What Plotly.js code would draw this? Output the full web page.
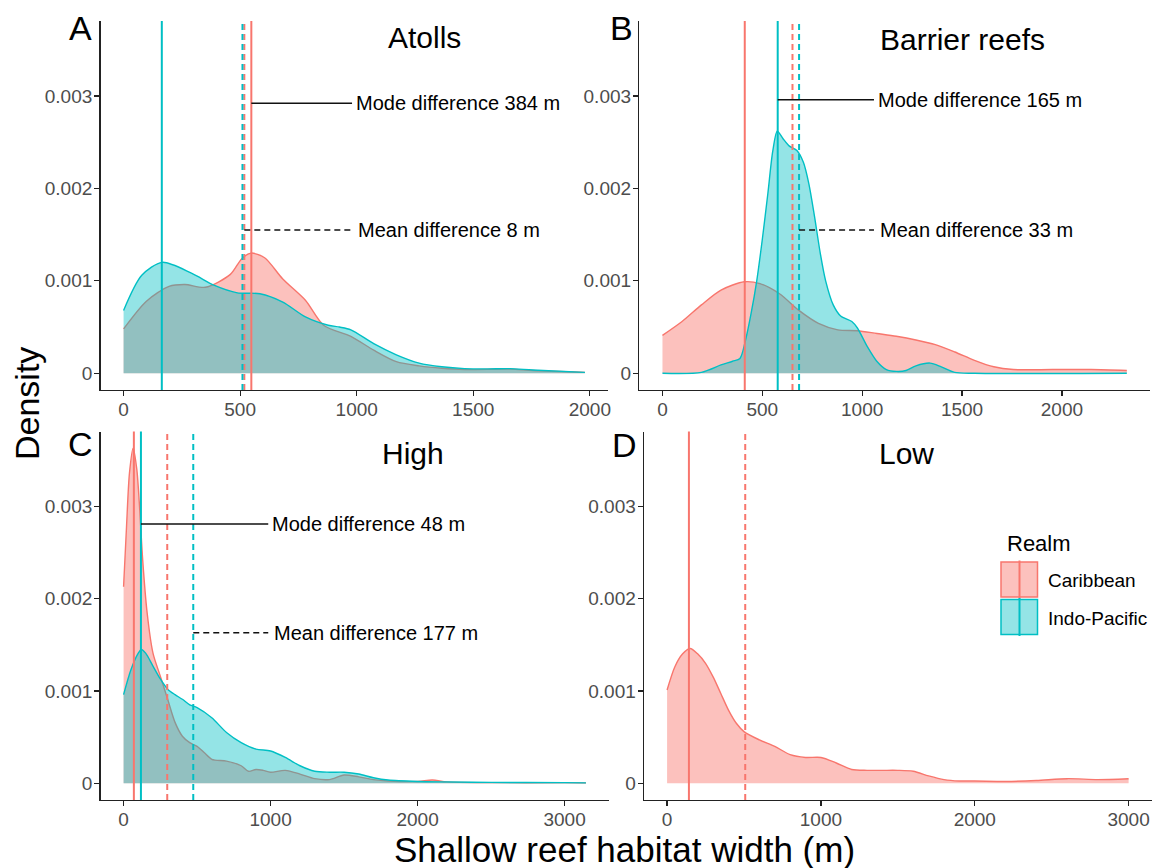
<!DOCTYPE html>
<html><head><meta charset="utf-8">
<script src="https://cdn.plot.ly/plotly-3.0.1.min.js"></script>
<style>html,body{margin:0;padding:0;background:#fff}</style>
</head><body>
<div id="chart" style="width:1162px;height:868px"></div>
<script>
// ---------- DATA ----------
const panelNames = ["Atolls", "Barrier reefs", "High", "Low"];
const panelLetters = ["A", "B", "C", "D"];
const realms = ["Caribbean", "Indo-Pacific"];

// Atolls
const atollsCarX = [0, 98, 195, 263, 351, 458, 507, 546, 605, 683, 780, 858, 975, 1073, 1170, 1268, 1365, 1463, 1658, 1755, 1979];
const atollsCarY = [0.00048, 0.00078, 0.00094, 0.00096, 0.00093, 0.00107, 0.00124, 0.00130, 0.00125, 0.00102, 0.00079, 0.00052, 0.00040, 0.00025, 0.000126, 0.00008, 0.000054, 0.00004, 0.000045, 0.00003, 0.00001];
const atollsIPX = [0, 78, 166, 293, 390, 488, 585, 683, 780, 878, 926, 975, 1073, 1170, 1268, 1365, 1463, 1560, 1658, 1755, 1979];
const atollsIPY = [0.00068, 0.00106, 0.00120, 0.00108, 0.00095, 0.00087, 0.00086, 0.00077, 0.00061, 0.00052, 0.00050, 0.00047, 0.00032, 0.00020, 0.00011, 0.00007, 0.00005, 0.000047, 0.00005, 0.000036, 0.00001];

// Barrier reefs
const barrierCarX = [0, 98, 195, 293, 410, 488, 586, 683, 781, 878, 976, 1074, 1171, 1269, 1366, 1464, 1562, 1659, 1757, 1952, 2147, 2325];
const barrierCarY = [0.00041, 0.00056, 0.00074, 0.00090, 0.00099, 0.00097, 0.00086, 0.00068, 0.00054, 0.00047, 0.00046, 0.00043, 0.00040, 0.00036, 0.00031, 0.00023, 0.00014, 0.00007, 0.00004, 0.00004, 0.00004, 0.00003];
const barrierIPX = [0, 195, 293, 351, 388, 416, 444, 472, 500, 528, 552, 575, 603, 634, 673, 706, 733, 761, 790, 817, 855, 892, 948, 976, 1025, 1073, 1121, 1172, 1220, 1269, 1340, 1396, 1463, 1562, 2325];
const barrierIPY = [0, 0.00001, 0.00009, 0.00013, 0.00016, 0.00036, 0.00065, 0.00100, 0.00145, 0.00195, 0.00240, 0.00262, 0.00254, 0.00246, 0.00241, 0.00228, 0.00205, 0.00170, 0.00130, 0.00100, 0.00074, 0.00062, 0.00056, 0.00049, 0.00029, 0.00013, 0.00004, 0.00002, 0.00003, 0.00008, 0.00011, 0.00007, 0.00001, 0, 0];

// High
const highCarX = [0, 20, 40, 65, 90, 110, 130, 160, 200, 250, 300, 350, 400, 450, 500, 550, 600, 700, 800, 850, 900, 950, 1000, 1100, 1200, 1300, 1400, 1500, 1600, 1700, 1800, 2000, 2100, 2200, 2500, 3000, 3145];
const highCarY = [0.00213, 0.00278, 0.00336, 0.00363, 0.00340, 0.00296, 0.00242, 0.00185, 0.00141, 0.00116, 0.00091, 0.00066, 0.00051, 0.00044, 0.00040, 0.00033, 0.00026, 0.00024, 0.00019, 0.00013, 0.00015, 0.00014, 0.00012, 0.00014, 0.00010, 0.00005, 0.00004, 0.00009, 0.00007, 0.00004, 0.000025, 0.00002, 0.000035, 0.000015, 0.000007, 0.000007, 0.000005];
const highIPX = [0, 50, 100, 120, 150, 200, 250, 300, 350, 400, 450, 500, 600, 700, 800, 900, 1000, 1100, 1200, 1300, 1400, 1500, 1600, 1700, 1800, 2000, 2200, 2500, 3000, 3145];
const highIPY = [0.00096, 0.00123, 0.00141, 0.00145, 0.00141, 0.00127, 0.00113, 0.00102, 0.00096, 0.00091, 0.00085, 0.00082, 0.00071, 0.00055, 0.00044, 0.00037, 0.00035, 0.00028, 0.00019, 0.00013, 0.00012, 0.00012, 0.00010, 0.00006, 0.000035, 0.00002, 0.000015, 0.00001, 0.000007, 0.000005];

// Low
const lowCarX = [0, 50, 100, 150, 200, 250, 300, 350, 400, 450, 500, 600, 700, 800, 900, 1000, 1100, 1200, 1300, 1400, 1500, 1600, 1700, 1800, 1900, 2000, 2200, 2400, 2600, 2800, 3000];
const lowCarY = [0.00101, 0.00126, 0.00140, 0.00146, 0.00140, 0.00130, 0.00115, 0.00097, 0.00079, 0.00065, 0.00056, 0.00047, 0.00040, 0.00031, 0.00028, 0.00028, 0.00022, 0.00015, 0.00014, 0.00014, 0.00014, 0.00013, 0.00008, 0.00004, 0.000025, 0.000025, 0.00002, 0.00003, 0.00005, 0.00004, 0.00005];

// modes and means (m) per panel: [Atolls, Barrier reefs, High, Low]
const modeCar = [548, 412, 70, 142];
const modeIP  = [164, 577, 118, null];
const meanCar = [518, 651, 297, 508];
const meanIP  = [510, 684, 474, null];
const modeDiff = [384, 165, 48, null];
const meanDiff = [8, 33, 177, null];

const yTickVals = [0, 0.001, 0.002, 0.003];
const yTickText = ["0", "0.001", "0.002", "0.003"];
const xTickVals = [[0, 500, 1000, 1500, 2000], [0, 500, 1000, 1500, 2000], [0, 1000, 2000, 3000], [0, 1000, 2000, 3000]];

// ---------- STYLE / LAYOUT ----------
const W = 1162, H = 868;
const px = v => v / W, py = v => 1 - v / H;
const FONT = "Liberation Sans, Arial, Helvetica, sans-serif";
const colCar = "#F8766D", colIP = "#00BFC4";
const fillCar = "rgba(248,118,109,0.45)", fillIP = "rgba(0,191,196,0.42)";

const series = [
  [[atollsCarX, atollsCarY], [atollsIPX, atollsIPY]],
  [[barrierCarX, barrierCarY], [barrierIPX, barrierIPY]],
  [[highCarX, highCarY], [highIPX, highIPY]],
  [[lowCarX, lowCarY], null]
];

const xRanges = [[-99, 2078], [-116, 2441], [-157, 3302], [-150, 3150]];
const xDomPx = [[100.5, 608], [639.3, 1150], [100.5, 609], [644, 1151.7]];
const yDomPx = [[21, 390], [21, 390], [431.5, 800], [431.5, 800]];
const yRange = [-0.000181, 0.003811];
const segLevels = [[0.00292, 0.00155], [0.00296, 0.00155], [0.00281, 0.00163], null];
const segEnd = [980, 1059, 984, null];

const traces = [];
const shapes = [];
const annotations = [];
const layout = {
  width: W, height: H, margin: {l: 0, r: 0, t: 0, b: 0},
  paper_bgcolor: "#fff", plot_bgcolor: "rgba(0,0,0,0)",
  showlegend: false, font: {family: FONT, color: "#000"}
};

for (let p = 0; p < 4; p++) {
  const xa = "x" + (p + 1), ya = "y" + (p + 1);
  const xk = "xaxis" + (p + 1), yk = "yaxis" + (p + 1);
  const [carS, ipS] = series[p];
  traces.push({x: carS[0], y: carS[1], xaxis: xa, yaxis: ya, type: "scatter", mode: "lines",
    name: realms[0], fill: "tozeroy", fillcolor: fillCar,
    line: {color: colCar, width: 1.4, shape: "spline", smoothing: 0.8}, hoverinfo: "x+y"});
  if (ipS) traces.push({x: ipS[0], y: ipS[1], xaxis: xa, yaxis: ya, type: "scatter", mode: "lines",
    name: realms[1], fill: "tozeroy", fillcolor: fillIP,
    line: {color: colIP, width: 1.4, shape: "spline", smoothing: 0.8}, hoverinfo: "x+y"});

  layout[xk] = {domain: [px(xDomPx[p][0]), px(xDomPx[p][1])], range: xRanges[p], anchor: ya,
    tickvals: xTickVals[p], ticks: "outside", ticklen: 5, tickwidth: 1.2, tickcolor: "#222",
    ticklabelstandoff: -3,
    showline: true, linecolor: "#222", linewidth: 1.4, showgrid: false, zeroline: false,
    tickfont: {family: FONT, size: 19, color: "#4D4D4D"}, fixedrange: true};
  layout[yk] = {domain: [py(yDomPx[p][1]), py(yDomPx[p][0])], range: yRange, anchor: xa,
    tickvals: yTickVals, ticktext: yTickText, ticks: "outside", ticklen: 5, tickwidth: 1.2, tickcolor: "#222",
    ticklabelstandoff: -2,
    showline: true, linecolor: "#222", linewidth: 1.4, showgrid: false, zeroline: false,
    tickfont: {family: FONT, size: 19, color: "#4D4D4D"}, fixedrange: true};

  // vertical mode (solid) and mean (dashed) lines
  const vl = (xv, col, dash) => { if (xv === null) return;
    shapes.push({type: "line", xref: xa, yref: ya + " domain", x0: xv, x1: xv, y0: 0, y1: 1,
      line: {color: col, width: 2, dash: dash}}); };
  vl(meanCar[p], colCar, "6px,4px");
  vl(meanIP[p], colIP, "6px,4px");
  vl(modeCar[p], colCar, "solid");
  vl(modeIP[p], colIP, "solid");

  // difference annotations
  if (modeDiff[p] !== null) {
    const mx = Math.max(modeCar[p], modeIP[p]);
    const ex = Math.max(meanCar[p], meanIP[p]);
    shapes.push({type: "line", xref: xa, yref: ya, x0: mx, x1: segEnd[p], y0: segLevels[p][0], y1: segLevels[p][0],
      line: {color: "#111", width: 1.5}});
    shapes.push({type: "line", xref: xa, yref: ya, x0: ex, x1: segEnd[p], y0: segLevels[p][1], y1: segLevels[p][1],
      line: {color: "#111", width: 1.5, dash: "6px,4px"}});
    annotations.push({xref: xa, yref: ya, x: segEnd[p], y: segLevels[p][0], xanchor: "left", yanchor: "middle",
      xshift: 2, showarrow: false, text: "Mode difference " + modeDiff[p] + " m",
      font: {family: FONT, size: 20, color: "#000"}});
    annotations.push({xref: xa, yref: ya, x: segEnd[p], y: segLevels[p][1], xanchor: "left", yanchor: "middle",
      xshift: 4, showarrow: false, text: "Mean difference " + meanDiff[p] + " m",
      font: {family: FONT, size: 20, color: "#000"}});
  }
}

// panel letters and titles
const letterPos = [[80.5, 28], [621, 28], [80.5, 444], [624, 445]];
const titlePos = [[424, 38], [962, 39], [413, 453], [906, 453]];
for (let p = 0; p < 4; p++) {
  annotations.push({xref: "paper", yref: "paper", x: px(letterPos[p][0]), y: py(letterPos[p][1]),
    xanchor: "center", yanchor: "middle", showarrow: false, text: panelLetters[p],
    font: {family: FONT, size: 34, color: "#000"}});
  annotations.push({xref: "paper", yref: "paper", x: px(titlePos[p][0]), y: py(titlePos[p][1]),
    xanchor: "center", yanchor: "middle", showarrow: false, text: panelNames[p],
    font: {family: FONT, size: 30, color: "#000"}});
}

// axis titles
annotations.push({xref: "paper", yref: "paper", x: px(27), y: py(404), textangle: -90,
  xanchor: "center", yanchor: "middle", showarrow: false, text: "Density",
  font: {family: FONT, size: 34, color: "#000"}});
annotations.push({xref: "paper", yref: "paper", x: px(624.5), y: py(849),
  xanchor: "center", yanchor: "middle", showarrow: false, text: "Shallow reef habitat width (m)",
  font: {family: FONT, size: 35, color: "#000"}});

// legend (drawn manually to match ggplot keys)
annotations.push({xref: "paper", yref: "paper", x: px(1005), y: py(543), xanchor: "left", yanchor: "middle",
  showarrow: false, text: "Realm", font: {family: FONT, size: 22, color: "#000"}});
const keyCols = [[colCar, fillCar], [colIP, fillIP]];
const keyY = [[562, 597], [599.5, 634.5]];
for (let i = 0; i < realms.length; i++) {
  shapes.push({type: "rect", xref: "paper", yref: "paper", x0: px(1001), x1: px(1037.5),
    y0: py(keyY[i][1]), y1: py(keyY[i][0]), fillcolor: keyCols[i][1], line: {color: keyCols[i][0], width: 1.5}});
  shapes.push({type: "line", xref: "paper", yref: "paper", x0: px(1019.5), x1: px(1019.5),
    y0: py(keyY[i][1] + 1.5), y1: py(keyY[i][0] - 1.5), line: {color: keyCols[i][0], width: 2}});
  annotations.push({xref: "paper", yref: "paper", x: px(1046), y: py((keyY[i][0] + keyY[i][1]) / 2 + 1),
    xanchor: "left", yanchor: "middle", showarrow: false, text: realms[i],
    font: {family: FONT, size: 19, color: "#000"}});
}

layout.shapes = shapes;
layout.annotations = annotations;
Plotly.newPlot("chart", traces, layout, {displayModeBar: false, staticPlot: true});
</script>
</body></html>
